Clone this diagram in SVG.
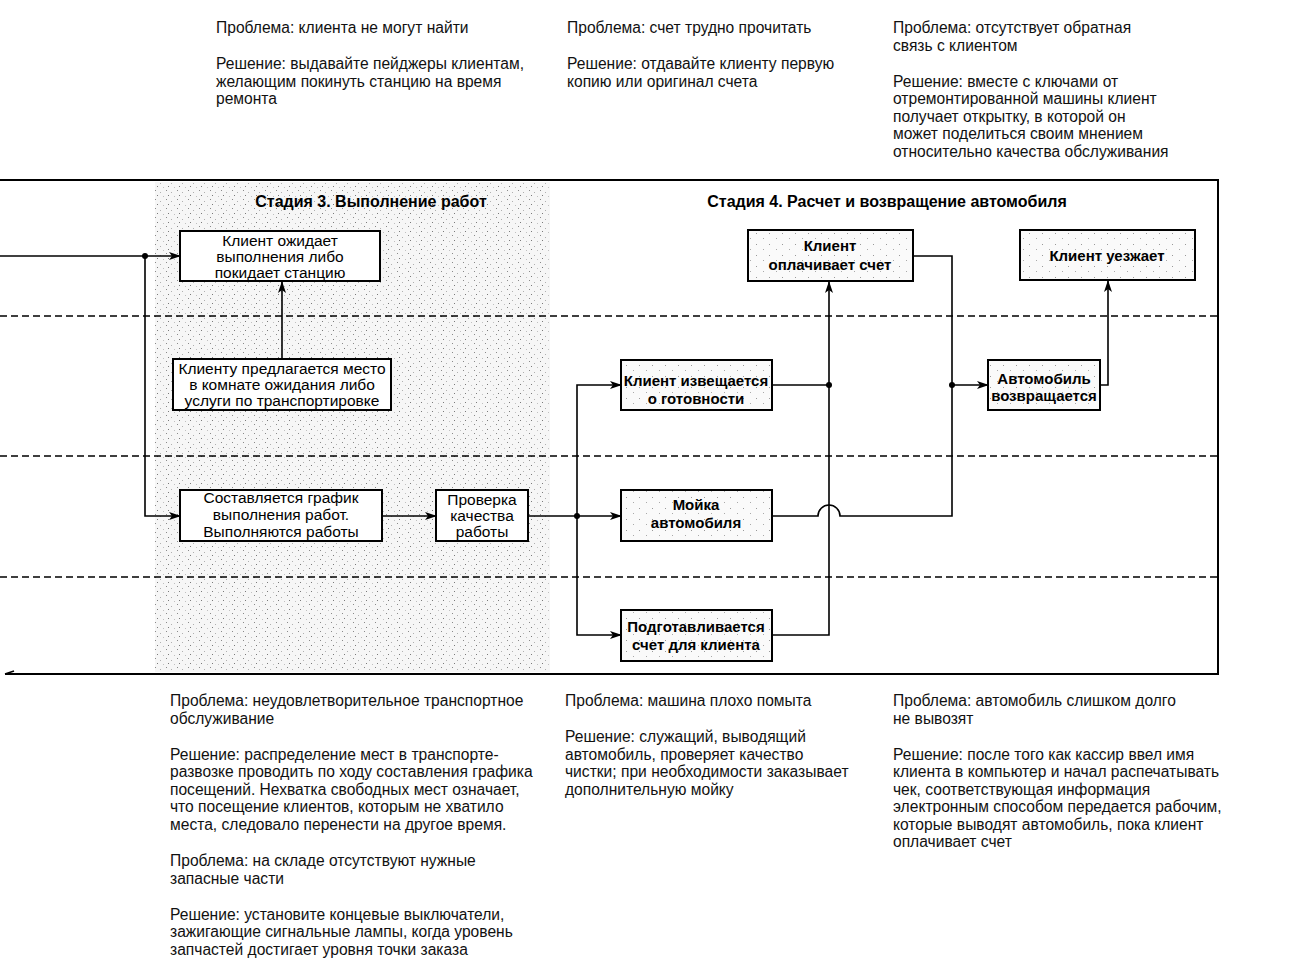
<svg xmlns="http://www.w3.org/2000/svg" width="1316" height="974" viewBox="0 0 1316 974">
<defs>
<pattern id="stip" width="11" height="9" patternUnits="userSpaceOnUse">
<rect width="11" height="9" fill="#f6f6f6"/>
<rect x="1" y="1" width="1" height="1" fill="#8a8a8a"/>
<rect x="6" y="3" width="1" height="1" fill="#b0b0b0"/>
<rect x="3" y="6" width="1" height="1" fill="#7a7a7a"/>
<rect x="9" y="7" width="1" height="1" fill="#c0c0c0"/>
</pattern>
<pattern id="stip2" width="13" height="11" patternUnits="userSpaceOnUse">
<rect width="13" height="11" fill="#fafafa"/>
<rect x="2" y="2" width="1" height="1" fill="#999"/>
<rect x="9" y="7" width="1" height="1" fill="#aaa"/>
</pattern>
<marker id="ah" markerWidth="12" markerHeight="8" refX="11" refY="4" orient="auto" markerUnits="userSpaceOnUse">
<path d="M0,0 L12,4 L0,8 L3,4 Z" fill="#000"/>
</marker>
<style>
.t{font-family:"Liberation Sans",Arial,sans-serif;font-size:15.6px;fill:#111}
.h{font-family:"Liberation Sans",Arial,sans-serif;font-size:16px;font-weight:bold;fill:#000;text-anchor:middle}
.b{font-family:"Liberation Sans",Arial,sans-serif;font-size:15.5px;fill:#000;text-anchor:middle}
.bb{font-family:"Liberation Sans",Arial,sans-serif;font-size:15px;font-weight:bold;fill:#000;text-anchor:middle}
.box{fill:#fff;stroke:#000;stroke-width:2}
.sbox{fill:url(#stip2);stroke:#000;stroke-width:2}
.ln{fill:none;stroke:#000;stroke-width:1.6}
.ar{fill:none;stroke:#000;stroke-width:1.6;marker-end:url(#ah)}
.dash{fill:none;stroke:#000;stroke-width:1.5;stroke-dasharray:7 4}
.fr{fill:none;stroke:#000;stroke-width:2}
</style>
</defs>
<rect width="1316" height="974" fill="#fff"/>

<g id="background">
<rect x="155" y="182" width="395" height="490" fill="url(#stip)"/>
<path class="fr" d="M0,180 H1218 V674 H5"/>
<path class="ln" d="M5,674 L14,671"/>
<path class="dash" d="M0,316 H1218"/>
<path class="dash" d="M0,456 H1218"/>
<path class="dash" d="M0,577 H1218"/>
<text class="h" x="371" y="207">Стадия 3. Выполнение работ</text>
<text class="h" x="887" y="207">Стадия 4. Расчет и возвращение автомобиля</text>
</g>

<g id="notes-top">
<text class="t" x="216" y="33">Проблема: клиента не могут найти</text>
<text class="t" x="216" y="69">Решение: выдавайте пейджеры клиентам,</text>
<text class="t" x="216" y="86.5">желающим покинуть станцию на время</text>
<text class="t" x="216" y="104">ремонта</text>
<text class="t" x="567" y="33">Проблема: счет трудно прочитать</text>
<text class="t" x="567" y="69">Решение: отдавайте клиенту первую</text>
<text class="t" x="567" y="86.5">копию или оригинал счета</text>
<text class="t" x="893" y="33">Проблема: отсутствует обратная</text>
<text class="t" x="893" y="50.5">связь с клиентом</text>
<text class="t" x="893" y="86.5">Решение: вместе с ключами от</text>
<text class="t" x="893" y="104">отремонтированной машины клиент</text>
<text class="t" x="893" y="121.5">получает открытку, в которой он</text>
<text class="t" x="893" y="139">может поделиться своим мнением</text>
<text class="t" x="893" y="156.5">относительно качества обслуживания</text>
</g>

<g id="notes-bottom">
<text class="t" x="170" y="706">Проблема: неудовлетворительное транспортное</text>
<text class="t" x="170" y="723.5">обслуживание</text>
<text class="t" x="170" y="759.5">Решение: распределение мест в транспорте-</text>
<text class="t" x="170" y="777">развозке проводить по ходу составления графика</text>
<text class="t" x="170" y="794.5">посещений. Нехватка свободных мест означает,</text>
<text class="t" x="170" y="812">что посещение клиентов, которым не хватило</text>
<text class="t" x="170" y="829.5">места, следовало перенести на другое время.</text>
<text class="t" x="170" y="866">Проблема: на складе отсутствуют нужные</text>
<text class="t" x="170" y="883.5">запасные части</text>
<text class="t" x="170" y="919.5">Решение: установите концевые выключатели,</text>
<text class="t" x="170" y="937">зажигающие сигнальные лампы, когда уровень</text>
<text class="t" x="170" y="954.5">запчастей достигает уровня точки заказа</text>
<text class="t" x="565" y="706">Проблема: машина плохо помыта</text>
<text class="t" x="565" y="742">Решение: служащий, выводящий</text>
<text class="t" x="565" y="759.5">автомобиль, проверяет качество</text>
<text class="t" x="565" y="777">чистки; при необходимости заказывает</text>
<text class="t" x="565" y="794.5">дополнительную мойку</text>
<text class="t" x="893" y="706">Проблема: автомобиль слишком долго</text>
<text class="t" x="893" y="723.5">не вывозят</text>
<text class="t" x="893" y="759.5">Решение: после того как кассир ввел имя</text>
<text class="t" x="893" y="777">клиента в компьютер и начал распечатывать</text>
<text class="t" x="893" y="794.5">чек, соответствующая информация</text>
<text class="t" x="893" y="812">электронным способом передается рабочим,</text>
<text class="t" x="893" y="829.5">которые выводят автомобиль, пока клиент</text>
<text class="t" x="893" y="847">оплачивает счет</text>
</g>

<g id="connectors">
<path class="ar" d="M0,256 H180"/>
<path class="ar" d="M145,256 V516 H180"/>
<path class="ar" d="M282,359 V282"/>
<path class="ar" d="M382,516 H436"/>
<path class="ar" d="M528,516 H621"/>
<path class="ar" d="M577,516 V385 H621"/>
<path class="ar" d="M577,516 V635 H621"/>
<path class="ln" d="M772,385 H829"/>
<path class="ar" d="M772,635 H829 V282"/>
<path class="ar" d="M913,256 H952 V385 H988"/>
<path class="ln" d="M772,516 H818 A11,11 0 0 1 840,516 H952 V385"/>
<path class="ar" d="M1100,385 H1108 V281"/>
<circle cx="145" cy="256" r="3"/>
<circle cx="577" cy="516" r="3"/>
<circle cx="829" cy="385" r="3"/>
<circle cx="952" cy="385" r="3"/>
</g>

<g id="n-wait">
<rect class="box" x="180" y="231" width="200" height="50"/>
<text class="b" x="280" y="246">Клиент ожидает</text>
<text class="b" x="280" y="262">выполнения либо</text>
<text class="b" x="280" y="278">покидает станцию</text>
</g>
<g id="n-offer">
<rect class="box" x="173" y="359" width="218" height="51"/>
<text class="b" x="282" y="374">Клиенту предлагается место</text>
<text class="b" x="282" y="390">в комнате ожидания либо</text>
<text class="b" x="282" y="406">услуги по транспортировке</text>
</g>
<g id="n-schedule">
<rect class="box" x="180" y="490" width="202" height="51"/>
<text class="b" x="281" y="503">Составляется график</text>
<text class="b" x="281" y="520">выполнения работ.</text>
<text class="b" x="281" y="537">Выполняются работы</text>
</g>
<g id="n-check">
<rect class="box" x="436" y="490" width="92" height="51"/>
<text class="b" x="482" y="505">Проверка</text>
<text class="b" x="482" y="521">качества</text>
<text class="b" x="482" y="537">работы</text>
</g>
<g id="n-pay">
<rect class="sbox" x="748" y="230" width="165" height="51"/>
<text class="bb" x="830" y="251">Клиент</text>
<text class="bb" x="830" y="270">оплачивает счет</text>
</g>
<g id="n-leave">
<rect class="sbox" x="1020" y="230" width="175" height="50"/>
<text class="bb" x="1107" y="261">Клиент уезжает</text>
</g>
<g id="n-notify">
<rect class="sbox" x="621" y="360" width="151" height="50"/>
<text class="bb" x="696" y="386">Клиент извещается</text>
<text class="bb" x="696" y="404">о готовности</text>
</g>
<g id="n-return">
<rect class="sbox" x="988" y="360" width="112" height="50"/>
<text class="bb" x="1044" y="384">Автомобиль</text>
<text class="bb" x="1044" y="401">возвращается</text>
</g>
<g id="n-wash">
<rect class="sbox" x="621" y="490" width="151" height="51"/>
<text class="bb" x="696" y="510">Мойка</text>
<text class="bb" x="696" y="528">автомобиля</text>
</g>
<g id="n-bill">
<rect class="sbox" x="621" y="610" width="151" height="51"/>
<text class="bb" x="696" y="632">Подготавливается</text>
<text class="bb" x="696" y="650">счет для клиента</text>
</g>
</svg>
